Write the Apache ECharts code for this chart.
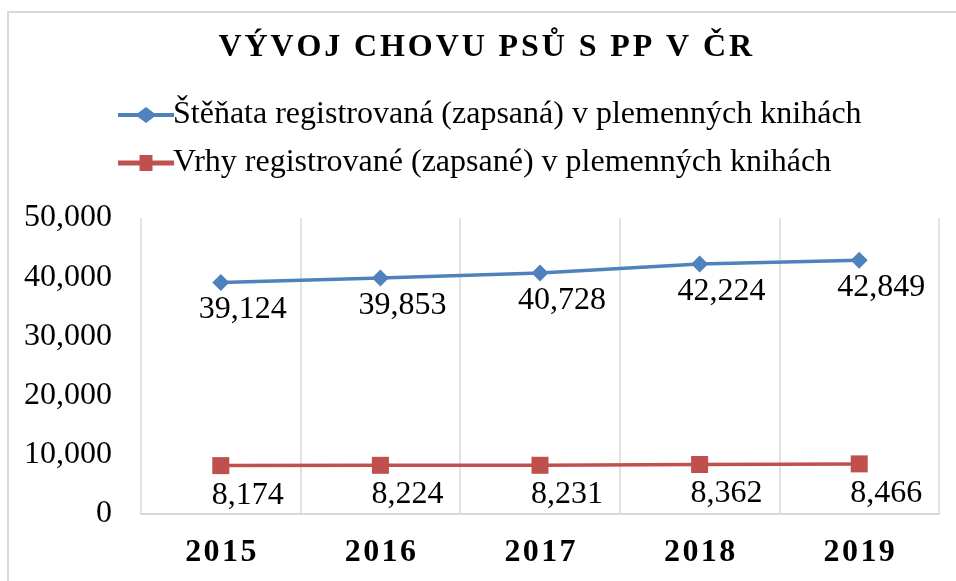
<!DOCTYPE html>
<html>
<head>
<meta charset="utf-8">
<script src="https://cdn.jsdelivr.net/npm/echarts@6/dist/echarts.min.js"></script>
<style>
  html, body { margin: 0; padding: 0; background: #fff; }
  #chart { width: 956px; height: 581px; }
</style>
</head>
<body>
<div id="chart"></div>
<script>
// data
var TITLE = 'VÝVOJ CHOVU PSŮ S PP V ČR';
var YEARS = ['2015', '2016', '2017', '2018', '2019'];
var PUPPIES_NAME = 'Štěňata registrovaná (zapsaná) v plemenných knihách';
var PUPPIES = [39124, 39853, 40728, 42224, 42849];
var LITTERS_NAME = 'Vrhy registrované (zapsané) v plemenných knihách';
var LITTERS = [8174, 8224, 8231, 8362, 8466];
var Y_MIN = 0;
var Y_MAX = 50000;
var Y_STEP = 10000;

var FONT = '"Liberation Serif", "Times New Roman", serif';
var BLUE = '#4F81BD';
var RED = '#C0504D';
var GRID_GREY = '#D9D9D9';

// legend icons: thick line with the marker in the middle (56 x 16 box)
var ICON_DIAMOND = 'path://M0,6H20L28,0L36,6H56V10H36L28,16L20,10H0Z';
var ICON_SQUARE = 'path://M0,6H21.5V1.5H34.5V6H56V10H34.5V14.5H21.5V10H0Z';

function fmt(v) {
  return Number(v).toLocaleString('en-US');
}

// spaced-out text via rich segments (canvas has no letterSpacing)
function spaced(str) {
  return str.split('').map(function(ch) { return '{c|' + ch + '}'; }).join('');
}

var chart = echarts.init(document.getElementById('chart'));

chart.setOption({
  backgroundColor: '#fff',
  animation: false,
  graphic: [{
    type: 'rect',
    shape: { x: 8, y: 12, width: 1000, height: 700 },
    style: { fill: 'none', stroke: GRID_GREY, lineWidth: 2 },
    silent: true
  }],
  title: {
    text: spaced(TITLE),
    left: 212,
    top: 27,
    textStyle: {
      rich: {
        c: {
          fontFamily: FONT,
          fontSize: 32,
          fontWeight: 'bold',
          color: '#000',
          padding: [0, 1.45]
        }
      }
    }
  },
  legend: {
    orient: 'vertical',
    left: 113,
    top: 94,
    itemWidth: 56,
    itemHeight: 16,
    itemGap: 16,
    symbolKeepAspect: false,
    textStyle: {
      fontFamily: FONT,
      fontSize: 32,
      lineHeight: 32,
      color: '#000',
      padding: [0, 0, 0, -6]
    },
    data: [
      { name: PUPPIES_NAME, icon: ICON_DIAMOND },
      { name: LITTERS_NAME, icon: ICON_SQUARE }
    ]
  },
  grid: {
    left: 141,
    right: 17,
    top: 218,
    bottom: 67
  },
  xAxis: {
    type: 'category',
    data: YEARS,
    boundaryGap: true,
    axisLine: { show: true, lineStyle: { color: GRID_GREY, width: 2 } },
    axisTick: { show: false },
    splitLine: { show: true, lineStyle: { color: GRID_GREY, width: 1.5 } },
    axisLabel: {
      margin: 23,
      formatter: function(v) { return spaced(v); },
      rich: {
        c: {
          fontFamily: FONT,
          fontSize: 32,
          fontWeight: 'bold',
          color: '#000',
          padding: [0, 1.2]
        }
      }
    }
  },
  yAxis: {
    type: 'value',
    min: Y_MIN,
    max: Y_MAX,
    interval: Y_STEP,
    axisLine: { show: false },
    axisTick: { show: false },
    splitLine: { show: false },
    axisLabel: {
      margin: 29,
      fontFamily: FONT,
      fontSize: 32,
      color: '#000',
      formatter: fmt
    }
  },
  series: [
    {
      name: PUPPIES_NAME,
      type: 'line',
      data: PUPPIES,
      symbol: 'diamond',
      symbolSize: 17,
      itemStyle: { color: BLUE },
      lineStyle: { color: BLUE, width: 3.5 },
      label: {
        show: true,
        position: 'bottom',
        distance: 3,
        offset: [22, 0],
        fontFamily: FONT,
        fontSize: 32,
        color: '#000',
        formatter: function(p) { return fmt(p.value); }
      }
    },
    {
      name: LITTERS_NAME,
      type: 'line',
      data: LITTERS,
      symbol: 'rect',
      symbolSize: 17,
      itemStyle: { color: RED },
      lineStyle: { color: RED, width: 3.5 },
      label: {
        show: true,
        position: 'bottom',
        distance: 5,
        offset: [27, 0],
        fontFamily: FONT,
        fontSize: 32,
        color: '#000',
        formatter: function(p) { return fmt(p.value); }
      }
    }
  ]
});
</script>
</body>
</html>
